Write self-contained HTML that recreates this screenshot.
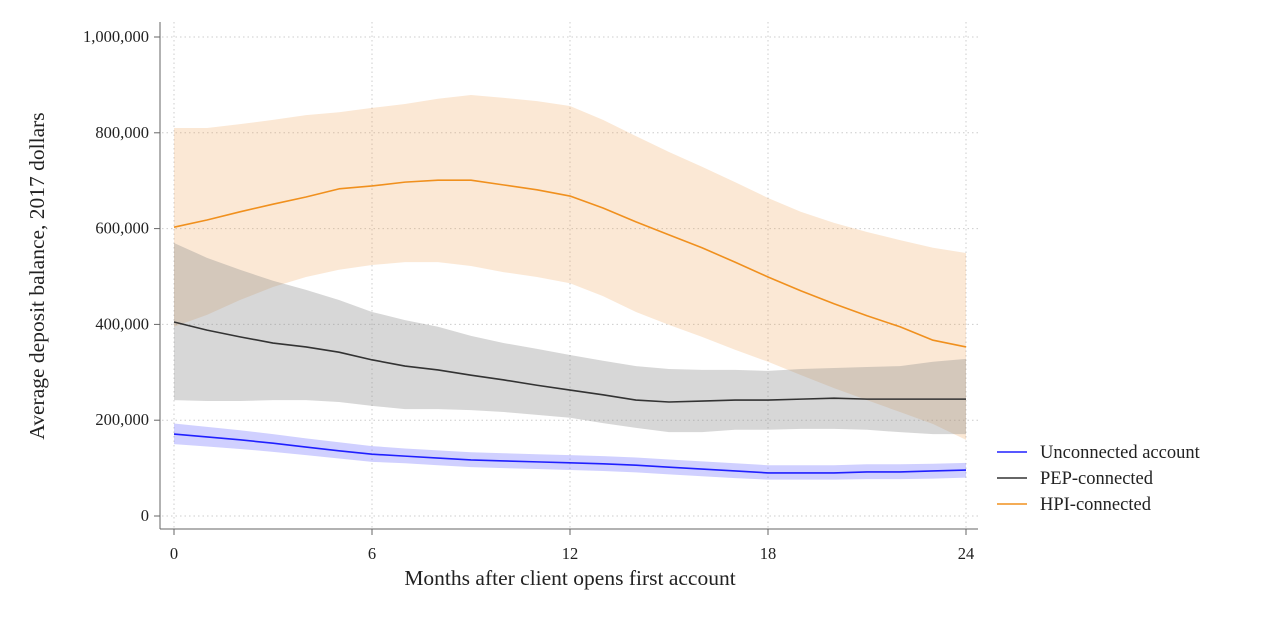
<!DOCTYPE html>
<html><head><meta charset="utf-8"><style>
body{margin:0;background:#fff;}
svg text{font-family:"Liberation Serif",serif;fill:#222;}
</style></head><body>
<svg id="chart" width="1262" height="618">
<g id="grid"></g><g id="bands"></g><g id="lines"></g><g id="axes"></g><g id="legend"></g>
<text x="44" y="276" font-size="21.5" text-anchor="middle" transform="rotate(-90 44 276)">Average deposit balance, 2017 dollars</text>
<text x="570" y="585" font-size="21.5" text-anchor="middle">Months after client opens first account</text>
</svg>
<script>
const months=[0,1,2,3,4,5,6,7,8,9,10,11,12,13,14,15,16,17,18,19,20,21,22,23,24];
const hpiMean=[603,618,635,651,666,683,689,697,701,701,691,681,668,643,614,587,560,530,499,470,443,418,395,367,353];
const hpiUpper=[810,810,818,827,837,843,852,860,871,879,873,866,856,827,793,760,729,697,664,635,612,593,576,560,549];
const hpiLower=[395,420,451,478,499,514,524,530,530,522,509,499,486,459,426,399,374,347,322,294,267,242,217,192,159];
const pepMean=[405,388,374,361,353,342,326,313,305,294,284,273,263,253,242,238,240,242,242,244,246,244,244,244,244];
const pepUpper=[570,539,514,491,472,451,426,409,395,376,361,349,336,324,313,307,305,305,303,307,309,311,313,322,328];
const pepLower=[242,240,240,242,242,238,230,223,223,221,217,211,205,194,184,175,175,180,180,182,182,180,175,171,171];
const uncMean=[171,165,159,152,144,136,129,125,121,117,115,113,111,109,106,102,98,94,90,90,90,92,92,94,96];
const uncUpper=[193,186,179,171,162,154,146,141,137,133,131,129,127,125,122,118,114,110,106,106,106,108,108,109,111];
const uncLower=[150,145,140,134,127,120,113,110,106,102,100,98,96,94,91,87,83,79,76,76,76,77,77,78,80];
const yTicks=[0,200,400,600,800,1000];
const yTickLabels=["0","200,000","400,000","600,000","800,000","1,000,000"];
const xTicks=[0,6,12,18,24];
const NS="http://www.w3.org/2000/svg";
const X=m=>174+m*33, Y=v=>516-v*0.479;
function mk(tag,attrs,parent){const e=document.createElementNS(NS,tag);for(const k in attrs)e.setAttribute(k,attrs[k]);parent.appendChild(e);return e;}
const grid=document.getElementById('grid'),axes=document.getElementById('axes');
yTicks.forEach((t,i)=>{
 const g=mk('line',{x1:162,x2:978,y1:Y(t),y2:Y(t),stroke:'#ccc','stroke-dasharray':'1.5,3'},grid);
 
 
 mk('line',{x1:154,x2:160,y1:Y(t),y2:Y(t),stroke:'#666'},axes);
 const l=mk('text',{x:149,y:Y(t)+5,'font-size':16.5,'text-anchor':'end'},axes);
 l.textContent=yTickLabels[i];
 
 
});
xTicks.forEach(t=>{
 const g=mk('line',{x1:X(t),x2:X(t),y1:22,y2:529,stroke:'#ccc','stroke-dasharray':'1.5,3'},grid);
 
 
 mk('line',{x1:X(t),x2:X(t),y1:529,y2:535,stroke:'#666'},axes);
 const l=mk('text',{x:X(t),y:559,'font-size':16.5,'text-anchor':'middle'},axes);
 l.textContent=t;
 
 
});
mk('line',{x1:160,x2:160,y1:22,y2:529,stroke:'#666'},axes);
mk('line',{x1:160,x2:978,y1:529,y2:529,stroke:'#666'},axes);
function band(up,lo,fill,name){
 let d='M'+months.map((m,i)=>X(m)+','+Y(up[i])).join('L')+'L'+months.slice().reverse().map((m,j)=>X(m)+','+Y(lo[months.length-1-j])).join('L')+'Z';
 const p=mk('path',{d:d,fill:fill},document.getElementById('bands'));
 
 
}
function line(v,c,name){
 const p=mk('polyline',{points:months.map((m,i)=>X(m)+','+Y(v[i])).join(' '),fill:'none',stroke:c,'stroke-width':1.6,'stroke-linejoin':'round'},document.getElementById('lines'));
 
 
}
band(hpiUpper,hpiLower,'rgba(238,160,80,0.24)','hpi-confidence-band');
band(pepUpper,pepLower,'rgba(140,140,140,0.35)','pep-confidence-band');
band(uncUpper,uncLower,'rgba(120,120,255,0.35)','unconnected-confidence-band');
line(hpiMean,'#f0901e','hpi-line');
line(pepMean,'#333','pep-line');
line(uncMean,'#2020ff','unconnected-line');
const leg=document.getElementById('legend');
[['Unconnected account','#2020ff'],['PEP-connected','#333'],['HPI-connected','#f0901e']].forEach((e,i)=>{
 const y=452+i*26;
 const g=mk('g',{},leg);
 
 
 mk('line',{x1:997,x2:1027,y1:y,y2:y,stroke:e[1],'stroke-width':1.6},g);
 const t=mk('text',{x:1040,y:y+6,'font-size':18.5},g);
 t.textContent=e[0];
});
</script>
</body></html>
